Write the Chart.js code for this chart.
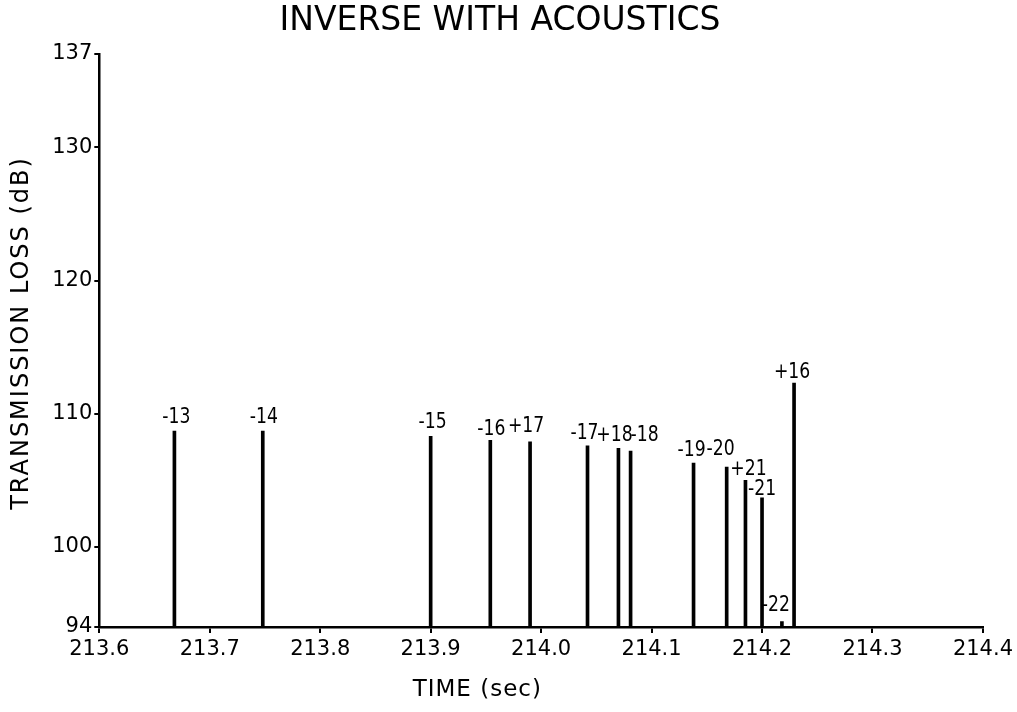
<!DOCTYPE html>
<html>
<head>
<meta charset="utf-8">
<script src="https://cdn.jsdelivr.net/npm/chart.js@4"></script>
<style>
  body { margin: 0; background: #fff; }
  #graphe { display: block; }
</style>
</head>
<body>
<canvas id="graphe" width="1017" height="712"></canvas>
<script>
// data
let temps = [213.668, 213.748, 213.900, 213.954, 213.990, 214.042, 214.070, 214.081, 214.138, 214.168, 214.185, 214.200, 214.218, 214.229];
let pertes = [108.7, 108.7, 108.3, 108.0, 107.9, 107.6, 107.4, 107.2, 106.3, 106.0, 105.0, 103.7, 94.4, 112.3];
let etiquettes = ["-13", "-14", "-15", "-16", "+17", "-17", "+18", "-18", "-19", "-20", "+21", "-21", "-22", "+16"];
let ticksX = [213.6, 213.7, 213.8, 213.9, 214.0, 214.1, 214.2, 214.3, 214.4];
let ticksY = [94, 100, 110, 120, 130, 137];

let police = "'DejaVu Sans', 'Liberation Sans', sans-serif";

// label nudges in px : [dx, gap above stem]
let decalages = {
  "-13": [2, 8], "-14": [1, 8], "-15": [2, 8], "-16": [1, 5], "+17": [-4, 10],
  "-17": [-3, 7], "+18": [-4, 7], "-18": [14, 10], "-19": [-2, 7], "-20": [-6, 12],
  "+21": [3, 5], "-21": [0, 3], "-22": [-6, 11], "+16": [-2, 5]
};

let points = [];
for (let i = 0; i < temps.length; i++) {
  points.push({ x: temps[i], y: pertes[i] });
}

// labels on top of each stem (narrow lettering) + the two axis titles
let pluginEtiquettes = {
  id: 'etiquettes',
  afterDatasetsDraw(chart) {
    let ctx = chart.ctx;
    let meta = chart.getDatasetMeta(0);
    ctx.fillStyle = '#000';
    ctx.font = "21px " + police;
    ctx.textAlign = 'center';
    ctx.textBaseline = 'alphabetic';
    for (let i = 0; i < meta.data.length; i++) {
      let bar = meta.data[i];
      let d = decalages[etiquettes[i]] || [0, 7];
      ctx.save();
      ctx.translate(bar.x + d[0], bar.y - d[1]);
      ctx.scale(0.82, 1);
      ctx.fillText(etiquettes[i], 0, 0);
      ctx.restore();
    }
  },
  afterDraw(chart) {
    let ctx = chart.ctx;
    let zone = chart.chartArea;
    ctx.save();
    ctx.fillStyle = '#000';
    ctx.textAlign = 'center';
    ctx.textBaseline = 'middle';
    ctx.letterSpacing = '1px';
    ctx.font = "23px " + police;
    ctx.fillText('TIME (sec)', zone.left + 378, 690);
    ctx.letterSpacing = '2px';
    ctx.font = "24px " + police;
    ctx.translate(22, 333);
    ctx.rotate(-Math.PI / 2);
    ctx.fillText('TRANSMISSION LOSS (dB)', 0, 0);
    ctx.restore();
  }
};

let ctx = document.querySelector("#graphe");

new Chart(ctx, {
  type: 'bar',
  data: {
    datasets: [{
      data: points,
      base: 94,
      backgroundColor: '#000',
      borderWidth: 0,
      barThickness: 3,
      grouped: false
    }]
  },
  options: {
    responsive: false,
    animation: false,
    layout: { padding: { left: 17, right: 34, top: 0, bottom: 0 } },
    plugins: {
      legend: { display: false },
      tooltip: { enabled: false },
      title: {
        display: true,
        text: 'INVERSE WITH ACOUSTICS',
        color: '#000',
        font: { family: police, size: 33, weight: 'normal' },
        padding: { top: 2, bottom: 12.4 }
      }
    },
    scales: {
      x: {
        type: 'linear',
        min: 213.6,
        max: 214.4,
        offset: false,
        afterBuildTicks: (s) => { s.ticks = ticksX.map(v => ({ value: v })); },
        afterFit: (s) => { s.height = 85; },
        ticks: {
          color: '#000',
          font: { family: police, size: 21 },
          padding: 4,
          maxRotation: 0,
          autoSkip: false,
          callback: (v) => Number(v).toFixed(1)
        },
        grid: { display: true, drawOnChartArea: false, drawTicks: true, tickLength: 6, color: '#000', lineWidth: 2, offset: false },
        border: { display: true, color: '#000', width: 2.5 },
        title: { display: false }
      },
      y: {
        type: 'linear',
        min: 94,
        max: 137,
        afterBuildTicks: (s) => { s.ticks = ticksY.map(v => ({ value: v })); },
        afterFit: (s) => { s.width = 82.3; },
        ticks: {
          color: '#000',
          font: { family: police, size: 21 },
          padding: 2
        },
        grid: { display: true, drawOnChartArea: false, drawTicks: true, tickLength: 5, color: '#000', lineWidth: 2 },
        border: { display: true, color: '#000', width: 2.5 },
        title: { display: false }
      }
    }
  },
  plugins: [pluginEtiquettes]
});
</script>
</body>
</html>
